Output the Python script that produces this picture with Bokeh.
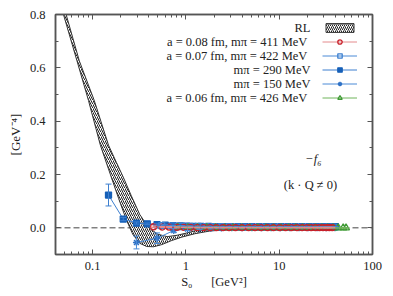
from bokeh.plotting import figure
from bokeh.models import (ColumnDataSource, Whisker, TeeHead, Span, Legend, LegendItem, Label,
                          FixedTicker, LogAxis, LinearAxis, CustomJSTickFormatter, PrintfTickFormatter)
from bokeh.core.properties import value
from bokeh.embed import file_html
from bokeh.resources import INLINE

FONT = "Liberation Serif"

# ---- RL band (lower and upper edges) ----
band_lo_s = [0.0487, 0.068, 0.0902, 0.121, 0.155, 0.19, 0.23, 0.27, 0.32, 0.38, 0.45, 0.55, 0.7, 0.9, 1.25, 1.8, 3.0, 6.0, 15.0, 30.0]
band_lo_v = [0.80, 0.626, 0.478, 0.31, 0.20, 0.11, 0.03, -0.025, -0.058, -0.070, -0.071, -0.063, -0.048, -0.035, -0.022, -0.012, -0.006, -0.003, -0.001, 0.0]
band_hi_s = [0.052, 0.072, 0.104, 0.148, 0.18, 0.213, 0.26, 0.32, 0.40, 0.5, 0.63, 0.8, 1.0, 1.3, 1.8, 3.0, 6.0, 15.0, 30.0]
band_hi_v = [0.80, 0.626, 0.478, 0.31, 0.245, 0.19, 0.12, 0.05, 0.0, -0.024, -0.033, -0.028, -0.02, -0.01, -0.005, -0.002, -0.001, 0.0, 0.0]

# ---- a = 0.08 fm, m_pi = 411 MeV ----
s_411 = [0.45, 0.56, 0.66, 0.80, 0.95, 1.12, 1.32, 1.55, 1.82, 2.13, 2.5, 2.9, 3.4, 4.0, 4.7, 5.5, 6.4, 7.5, 8.7,
         10.1, 11.7, 13.5, 15.5, 17.6, 19.8, 22.0, 24.5, 27.0, 29.5, 32.0, 34.5, 37.0]
v_411 = [0.004, 0.003, 0.003, 0.002, 0.002, 0.002, 0.001, 0.001, 0.001, 0.001, 0.001, 0.001, 0.001, 0.001, 0.001, 0.001,
         0.001, 0.001, 0.001, 0.001, 0.001, 0.001, 0.001, 0.001, 0.001, 0.001, 0.001, 0.001, 0.001, 0.001, 0.001, 0.001]
e_411 = [0.003, 0.002, 0.002, 0.002, 0.001, 0.001, 0.001, 0.001, 0.001, 0.001, 0.001, 0.001, 0.001, 0.001, 0.001, 0.001,
         0.001, 0.001, 0.001, 0.001, 0.001, 0.001, 0.001, 0.001, 0.001, 0.001, 0.001, 0.001, 0.001, 0.001, 0.001, 0.001]

# ---- a = 0.07 fm, m_pi = 422 MeV ----
s_422 = [0.55, 0.72, 0.9, 1.1, 1.35, 1.65, 2.0, 2.4, 2.9, 3.5, 4.2, 5.0, 6.0, 7.2, 8.6, 10.2, 12.1, 14.3, 16.8,
         19.6, 22.8, 26.3, 30.0, 34.0, 38.0]
v_422 = [0.008, 0.007, 0.006, 0.005, 0.005, 0.004, 0.004, 0.004, 0.004, 0.003, 0.003, 0.003, 0.003, 0.003, 0.003,
         0.003, 0.003, 0.003, 0.003, 0.003, 0.003, 0.003, 0.003, 0.003, 0.003]
e_422 = [0.003, 0.002, 0.002, 0.002, 0.001, 0.001, 0.001, 0.001, 0.001, 0.001, 0.001, 0.001, 0.001, 0.001, 0.001,
         0.001, 0.001, 0.001, 0.001, 0.001, 0.001, 0.001, 0.001, 0.001, 0.001]

# ---- m_pi = 290 MeV ----
s_290 = [0.148, 0.213, 0.295, 0.385, 0.49, 0.60, 0.73, 0.87, 1.02, 1.2, 1.45, 1.75, 2.1, 2.5, 3.0, 3.6, 4.3, 5.1,
         6.1, 7.3, 8.7, 10.4, 12.4, 14.8, 17.6, 21.0, 25.0, 29.5, 34.5, 40.0]
v_290 = [0.123, 0.033, 0.018, 0.015, 0.012, 0.010, 0.008, 0.007, 0.006, 0.005, 0.005, 0.005, 0.004, 0.004, 0.004,
         0.004, 0.004, 0.004, 0.004, 0.004, 0.004, 0.004, 0.004, 0.004, 0.004, 0.004, 0.004, 0.004, 0.004, 0.004]
e_290 = [0.041, 0.006, 0.004, 0.003, 0.003, 0.002, 0.002, 0.002, 0.001, 0.001, 0.001, 0.001, 0.001, 0.001, 0.001,
         0.001, 0.001, 0.001, 0.001, 0.001, 0.001, 0.001, 0.001, 0.001, 0.001, 0.001, 0.001, 0.001, 0.001, 0.001]

# ---- m_pi = 150 MeV ----
s_150 = [0.295, 0.49, 0.74, 1.04, 1.4, 1.85, 2.4, 3.1, 4.0, 5.1, 6.5, 8.2, 10.3, 13.0, 16.3, 20.4, 25.5, 31.8, 39.6]
v_150 = [-0.055, -0.039, -0.010, -0.005, -0.003, -0.002, -0.001, 0.0, 0.0, 0.0, 0.0, 0.0, 0.0, 0.0, 0.0, 0.0, 0.0, 0.0, 0.0]
e_150 = [0.024, 0.020, 0.008, 0.005, 0.003, 0.002, 0.002, 0.001, 0.001, 0.001, 0.001, 0.001, 0.001, 0.001, 0.001,
         0.001, 0.001, 0.001, 0.001]

# ---- a = 0.06 fm, m_pi = 426 MeV ----
s_426 = [0.82, 1.05, 1.33, 1.67, 2.08, 2.6, 3.2, 3.95, 4.85, 5.9, 7.2, 8.7, 10.5, 12.6, 15.0, 17.8, 21.0, 24.6,
         28.6, 33.0, 37.8, 43.0, 48.5, 52.0]
v_426 = [0.002, 0.001, 0.001, 0.001, 0.001, 0.0, 0.0, 0.0, 0.0, 0.0, 0.0, 0.0, 0.0, 0.0, 0.0, 0.0, 0.0, 0.0, 0.0,
         0.0, 0.0, 0.0, 0.0, 0.0]
e_426 = [0.002, 0.002, 0.001, 0.001, 0.001, 0.001, 0.001, 0.001, 0.001, 0.001, 0.001, 0.001, 0.001, 0.001, 0.001,
         0.001, 0.001, 0.001, 0.001, 0.001, 0.001, 0.001, 0.001, 0.001]

legend_labels = ["RL", "a = 0.08 fm,  m\u03c0 = 411 MeV", "a = 0.07 fm,  m\u03c0 = 422 MeV",
                 "m\u03c0 = 290 MeV", "m\u03c0 = 150 MeV", "a = 0.06 fm,  m\u03c0 = 426 MeV"]

x_major = [0.1, 1, 10, 100]
x_minor = [0.04, 0.05, 0.06, 0.07, 0.08, 0.09, 0.2, 0.3, 0.4, 0.5, 0.6, 0.7, 0.8, 0.9,
           2, 3, 4, 5, 6, 7, 8, 9, 20, 30, 40, 50, 60, 70, 80, 90]
y_major = [0.0, 0.2, 0.4, 0.6, 0.8]
y_minor = [-0.1, 0.1, 0.3, 0.5, 0.7]

p = figure(width=385, height=292, x_axis_type="log", x_range=(0.04, 100), y_range=(-0.1, 0.8),
           output_backend="svg", toolbar_location=None,
           min_border_left=55, min_border_right=13, min_border_top=14, min_border_bottom=38)
p.xgrid.visible = False
p.ygrid.visible = False
p.outline_line_color = "#555555"
p.outline_line_width = 1.5

AX = "#555555"


def style_axis(ax, labels=True):
    ax.axis_line_color = AX
    ax.axis_line_width = 1.5
    ax.major_tick_line_color = AX
    ax.minor_tick_line_color = AX
    ax.major_tick_in = 5
    ax.major_tick_out = 0
    ax.minor_tick_in = 3
    ax.minor_tick_out = 0
    ax.major_label_text_font = FONT
    ax.major_label_text_font_size = "12.5px" if labels else "4px"
    ax.major_label_text_color = "#222222"
    if not labels:
        ax.major_label_standoff = 0


xt = FixedTicker(ticks=x_major, minor_ticks=x_minor)
yt = FixedTicker(ticks=y_major, minor_ticks=y_minor)

p.xaxis.ticker = xt
p.xaxis.formatter = CustomJSTickFormatter(code="return tick.toString();")
style_axis(p.xaxis[0])
p.xaxis.major_label_standoff = 7
p.xaxis.axis_label = "S\u2080\u2003\u2002[GeV\u00b2]"
p.xaxis.axis_label_standoff = 2
p.xaxis.axis_label_text_font = FONT
p.xaxis.axis_label_text_font_style = "normal"
p.xaxis.axis_label_text_font_size = "12.5px"
p.xaxis.axis_label_text_color = "#222222"

p.yaxis.ticker = yt
p.yaxis.formatter = PrintfTickFormatter(format="%.1f")
style_axis(p.yaxis[0])
p.yaxis.major_label_standoff = 10
p.yaxis.axis_label = "[GeV\u207b\u2074]"
p.yaxis.axis_label_standoff = 4
p.yaxis.axis_label_text_font = FONT
p.yaxis.axis_label_text_font_style = "normal"
p.yaxis.axis_label_text_font_size = "13px"
p.yaxis.axis_label_text_color = "#222222"

blank = CustomJSTickFormatter(code="return '';")
top = LogAxis(ticker=FixedTicker(ticks=x_major, minor_ticks=x_minor), formatter=blank)
style_axis(top, labels=False)
p.add_layout(top, "above")
right = LinearAxis(ticker=FixedTicker(ticks=y_major, minor_ticks=y_minor), formatter=blank)
style_axis(right, labels=False)
p.add_layout(right, "right")

# zero line
p.add_layout(Span(location=0, dimension="width", line_dash="6 3", line_color="#444444",
                  line_width=1, level="underlay"))

# band
band_xs = band_lo_s + band_hi_s[::-1]
band_ys = band_lo_v + band_hi_v[::-1]
band = p.patch(band_xs, band_ys, fill_color="white", hatch_pattern="/", hatch_color="#222222",
               hatch_scale=4, hatch_weight=1, line_color="#333333", line_width=1)


def series(s, v, e, lcolor, marker, mcolor, fill, size):
    src = ColumnDataSource(dict(s=s, v=v, lo=[a - b for a, b in zip(v, e)], hi=[a + b for a, b in zip(v, e)]))
    ln = p.line("s", "v", source=src, line_color=lcolor, line_width=1)
    w = Whisker(base="s", upper="hi", lower="lo", source=src, dimension="height", level="glyph",
                line_color=lcolor, line_width=1,
                upper_head=TeeHead(size=6, line_color=lcolor, line_width=1),
                lower_head=TeeHead(size=6, line_color=lcolor, line_width=1))
    p.add_layout(w)
    mk = p.scatter("s", "v", source=src, marker=marker, size=size, line_color=mcolor,
                   fill_color=fill, line_width=1.3)
    return [ln, mk]


r290 = series(s_290, v_290, e_290, "#3d7fcf", "square", "#1660b8", "#1660b8", 6)
r422 = series(s_422, v_422, e_422, "#4a8ad6", "square", "#3d80d0", None, 6)
r150 = series(s_150, v_150, e_150, "#4a8ad6", "asterisk", "#2f72c6", None, 7)
r426 = series(s_426, v_426, e_426, "#6fb45a", "triangle", "#3f9a35", None, 7)
r411 = series(s_411, v_411, e_411, "#e48a8c", "circle", "#c8202a", None, 6)

items = [LegendItem(label=value(" "), renderers=[band]),
         LegendItem(label=value(" "), renderers=r411),
         LegendItem(label=value(" "), renderers=r422),
         LegendItem(label=value(" "), renderers=r290),
         LegendItem(label=value(" "), renderers=r150),
         LegendItem(label=value(" "), renderers=r426)]
leg = Legend(items=items, location=(267, 151), glyph_width=35, glyph_height=11, label_height=11,
             label_width=0, spacing=3, padding=0, margin=0, label_standoff=0,
             label_text_font_size="10px", border_line_color=None, background_fill_alpha=0)
p.add_layout(leg)

row_y = [226.5, 212.5, 198.5, 184.5, 170.5, 156.5]
for txt, yy in zip(legend_labels, row_y):
    p.add_layout(Label(x=255, y=yy, x_units="screen", y_units="screen", text=txt, text_align="right",
                       text_baseline="middle", text_font=FONT, text_font_size="12.5px", text_color="#222222"))

p.add_layout(Label(x=258, y=96, x_units="screen", y_units="screen", text="\u2212f\u2086", text_align="center",
                   text_baseline="middle", text_font=FONT, text_font_size="12.5px", text_font_style="italic",
                   text_color="#222222"))
p.add_layout(Label(x=255, y=70, x_units="screen", y_units="screen", text="(k \u00b7 Q \u2260 0)",
                   text_align="center", text_baseline="middle", text_font=FONT, text_font_size="12.5px",
                   text_color="#222222"))

open("out.html", "w").write(file_html(p, INLINE))
